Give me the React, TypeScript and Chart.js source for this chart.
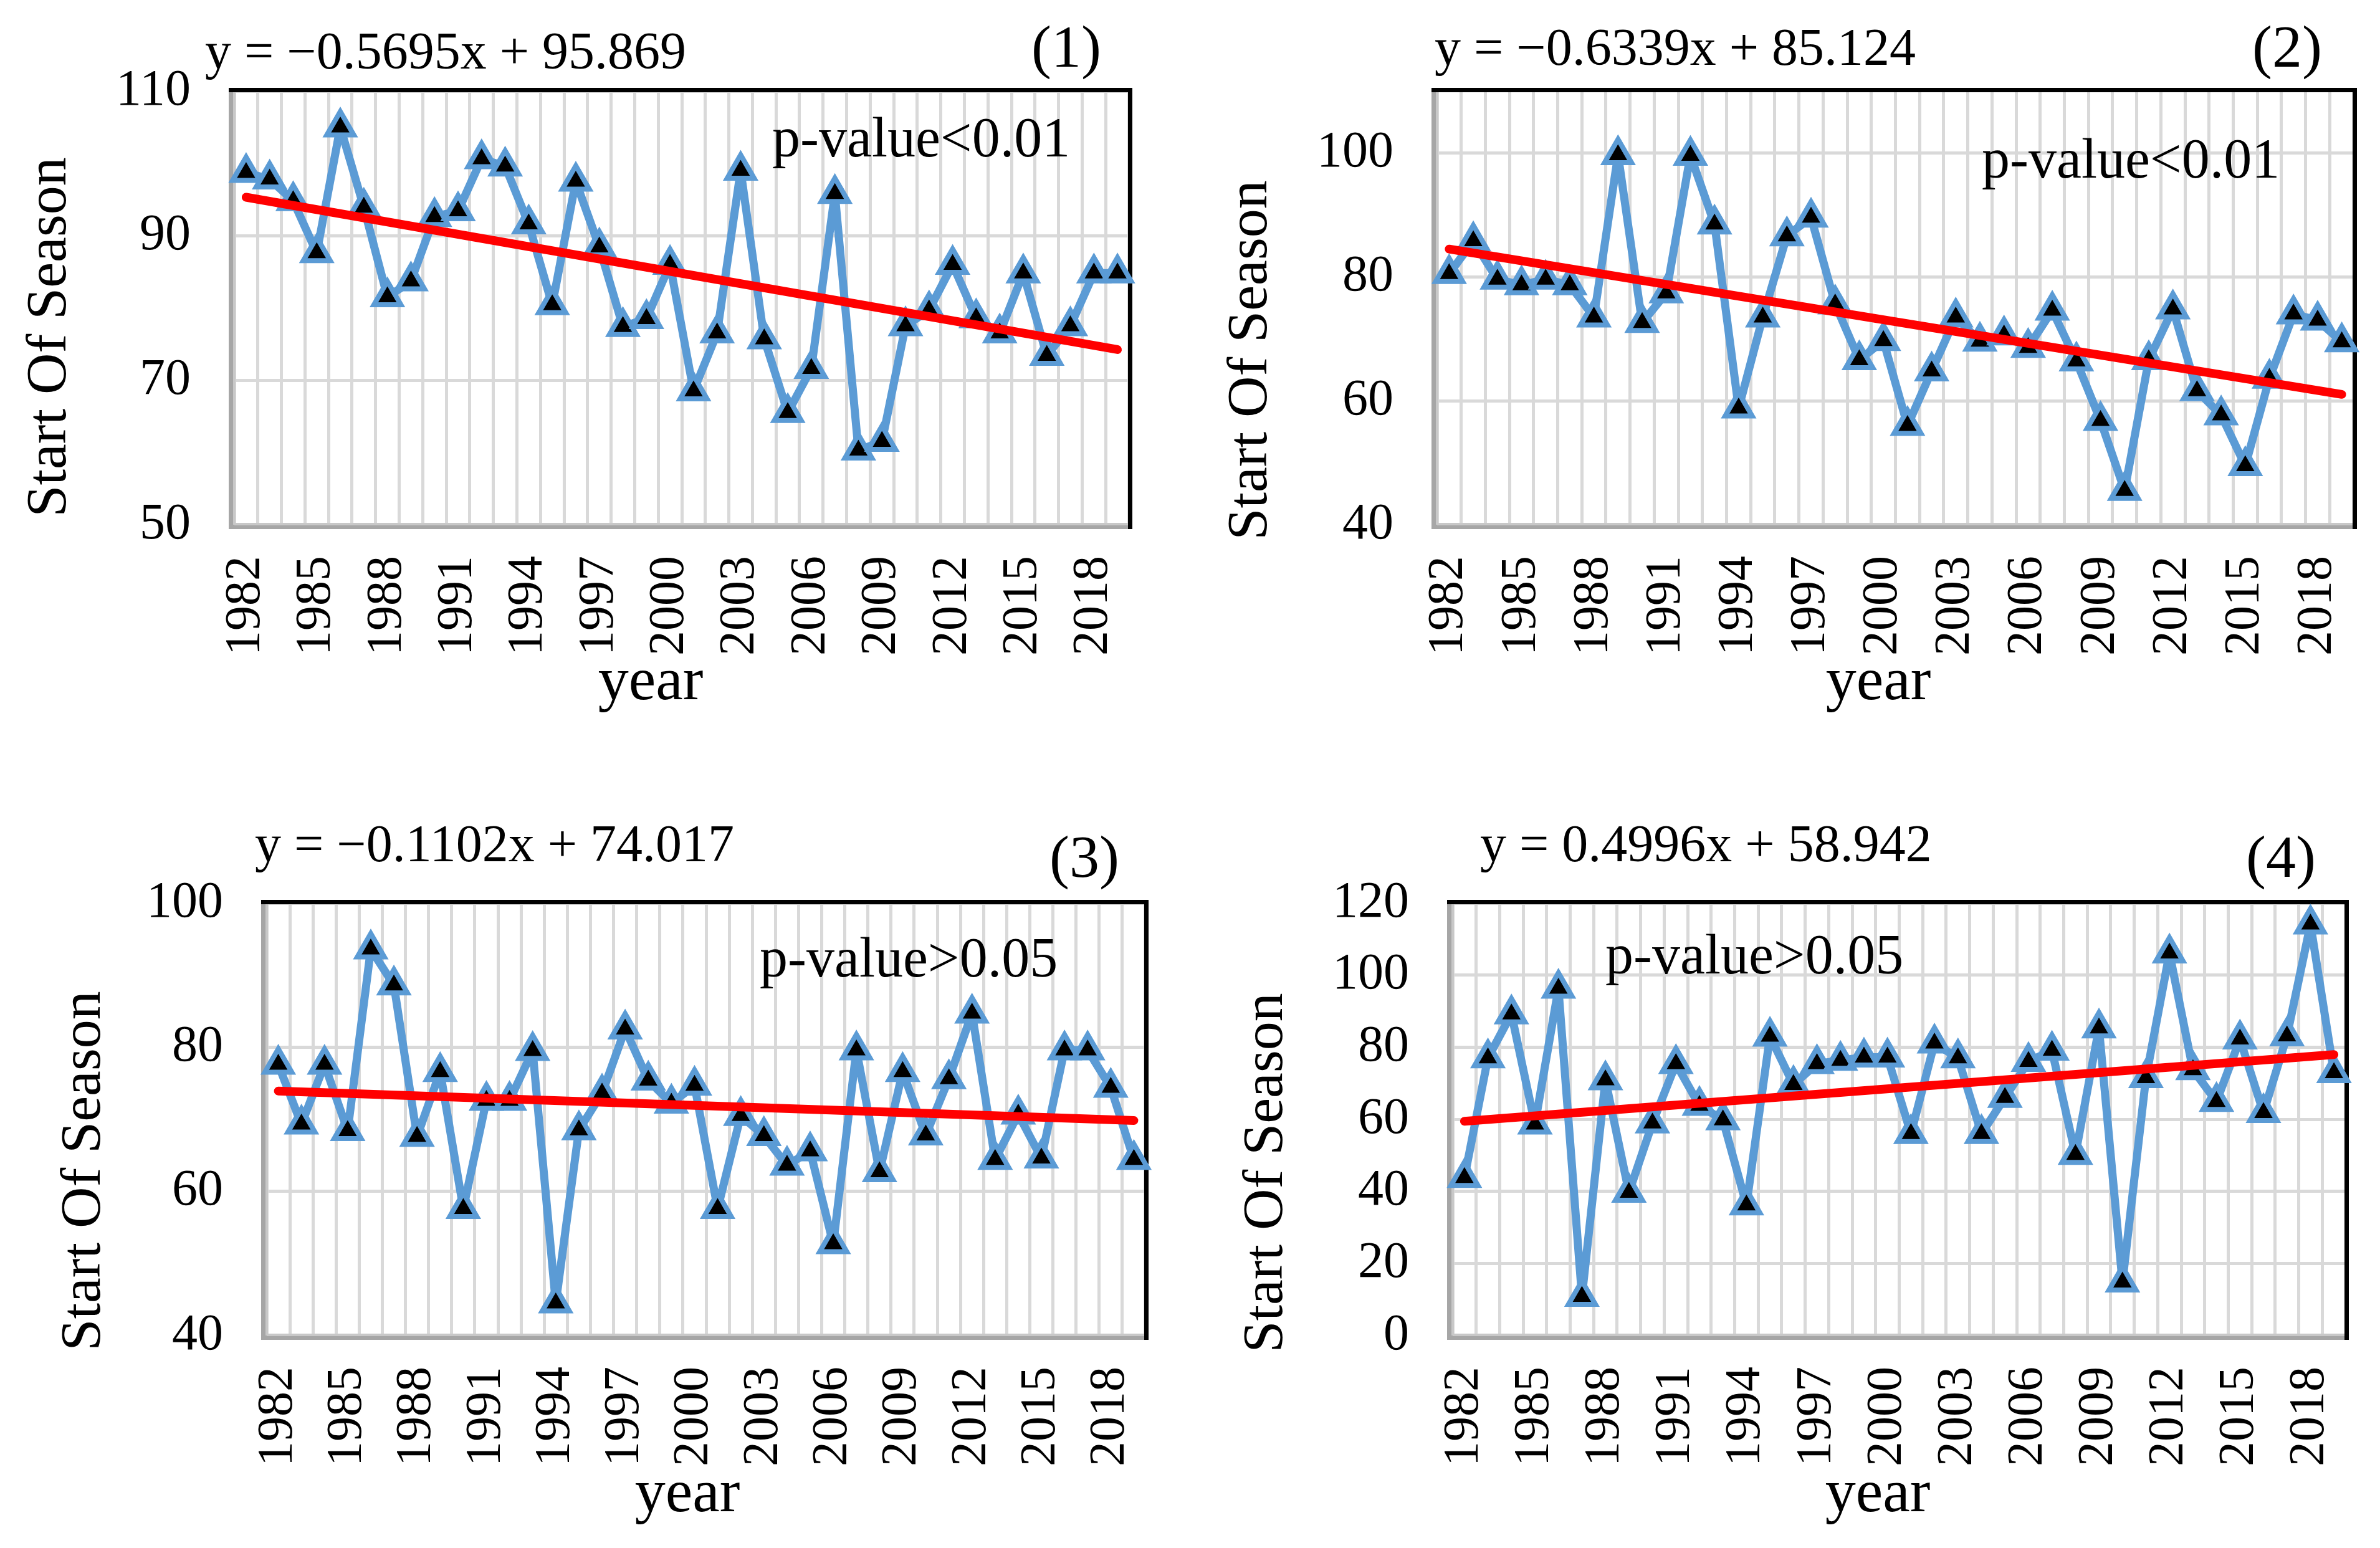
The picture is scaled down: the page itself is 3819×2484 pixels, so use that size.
import React, { useEffect, useRef } from 'react';
import { Chart, registerables } from 'chart.js';

Chart.register(...registerables);

const years = [
  '1982', '1983', '1984', '1985', '1986', '1987', '1988', '1989', '1990', '1991',
  '1992', '1993', '1994', '1995', '1996', '1997', '1998', '1999', '2000', '2001',
  '2002', '2003', '2004', '2005', '2006', '2007', '2008', '2009', '2010', '2011',
  '2012', '2013', '2014', '2015', '2016', '2017', '2018', '2019',
];

const sos1 = [98.7, 97.8, 94.8, 87.6, 105, 93.9, 81.5, 83.7, 92.6, 93.4, 100.6, 99.6, 91.6, 80.4, 97.5, 88.4, 77.4, 78.5, 86, 68.5, 76.5, 99, 75.7, 65.5, 71.6, 95.8, 60.3, 61.5, 77.5, 79.7, 86, 78.6, 76.5, 84.8, 73.4, 77.5, 84.8, 84.8];
const sos2 = [80.5, 85.8, 79.6, 78.7, 79.6, 78.7, 73.5, 99.7, 72.6, 77.4, 99.6, 88.5, 58.8, 73.5, 86.6, 89.6, 75.6, 66.6, 69.7, 56, 64.8, 73.5, 69.6, 70.6, 68.6, 74.6, 66.4, 56.8, 45.5, 66.6, 74.8, 61.6, 57.7, 49.5, 63.6, 74, 73, 69.5];
const sos3 = [77.6, 69.3, 77.6, 68.4, 93.6, 88.6, 67.6, 76.6, 57.6, 72.6, 72.6, 79.5, 44.5, 68.5, 73.6, 82.5, 75.4, 72.2, 74.7, 57.6, 70.5, 67.7, 63.6, 65.6, 52.7, 79.6, 62.7, 76.6, 67.8, 75.6, 84.7, 64.4, 70.7, 64.6, 79.6, 79.6, 74.4, 64.4];
const sos4 = [43.8, 77, 89.2, 58.6, 96.3, 10.8, 70.9, 39.7, 58.9, 75.4, 63.8, 59.8, 36.2, 83, 69.6, 75.4, 76.3, 77.2, 77.2, 56, 81.1, 77, 56, 66, 76, 79.1, 50.2, 85.3, 14.8, 71.5, 106.1, 73.7, 64.9, 82.2, 61.8, 83.1, 114.1, 72.9];

// trend line end values (first year, last year)
const trend1 = [95.3, 74.23];
const trend2 = [84.49, 61.04];
const trend3 = [73.91, 69.83];
const trend4 = [59.44, 77.93];

const equations = [
  'y = \u22120.5695x + 95.869',
  'y = \u22120.6339x + 85.124',
  'y = \u22120.1102x + 74.017',
  'y = 0.4996x + 58.942',
];
const pLabels = ['p-value<0.01', 'p-value<0.01', 'p-value>0.05', 'p-value>0.05'];
const panelTags = ['(1)', '(2)', '(3)', '(4)'];
const yTitle = 'Start Of Season';
const xTitle = 'year';

const FONT = "'Liberation Serif', 'Times New Roman', serif";
const BLUE = '#5B9BD5';
const RED = '#FF0000';
const GRID = '#D9D9D9';

function trendSeries(ends: number[]) {
  const arr: (number | null)[] = years.map(() => null);
  arr[0] = ends[0];
  arr[years.length - 1] = ends[1];
  return arr;
}

type PanelCfg = {
  x: number; y: number; w: number; h: number;
  area: { L: number; T: number; R: number; B: number };
  values: number[]; trend: number[];
  min: number; max: number; includeBounds: boolean;
  eq: { x: number; y: number }; tag: { x: number; y: number };
  p: { x: number; y: number }; yt: { x: number; y: number }; xt: { x: number; y: number };
  idx: number;
};

const panels: PanelCfg[] = [
  {
    x: 0, y: 0, w: 1910, h: 1242, area: { L: 376, T: 146, R: 1812, B: 842 },
    values: sos1, trend: trend1, min: 50, max: 110, includeBounds: true,
    eq: { x: 329, y: 110 }, tag: { x: 1767, y: 107 }, p: { x: 1239, y: 251 },
    yt: { x: 81, y: 541 }, xt: { x: 1044, y: 1122 }, idx: 0,
  },
  {
    x: 1910, y: 0, w: 1909, h: 1242, area: { L: 396, T: 146, R: 1867, B: 842 },
    values: sos2, trend: trend2, min: 40, max: 110, includeBounds: false,
    eq: { x: 392, y: 104 }, tag: { x: 1816, y: 107 }, p: { x: 1270, y: 285 },
    yt: { x: 98, y: 578 }, xt: { x: 1104, y: 1122 }, idx: 1,
  },
  {
    x: 0, y: 1242, w: 1910, h: 1242, area: { L: 428, T: 207, R: 1838, B: 901 },
    values: sos3, trend: trend3, min: 40, max: 100, includeBounds: true,
    eq: { x: 409, y: 140 }, tag: { x: 1796, y: 165 }, p: { x: 1219, y: 325 },
    yt: { x: 136, y: 637 }, xt: { x: 1103, y: 1183 }, idx: 2,
  },
  {
    x: 1910, y: 1242, w: 1909, h: 1242, area: { L: 421, T: 207, R: 1854, B: 901 },
    values: sos4, trend: trend4, min: 0, max: 120, includeBounds: true,
    eq: { x: 465, y: 140 }, tag: { x: 1806, y: 165 }, p: { x: 666, y: 320 },
    yt: { x: 123, y: 640 }, xt: { x: 1103, y: 1183 }, idx: 3,
  },
];

const framePlugin = {
  id: 'frame',
  beforeDatasetsDraw(chart: any) {
    const { ctx, chartArea: a } = chart;
    ctx.save();
    // left & bottom gray
    ctx.fillStyle = '#A6A6A6';
    ctx.fillRect(a.left - 9, a.top, 7, a.bottom - a.top + 7);
    ctx.fillRect(a.left - 9, a.bottom, a.right - a.left + 9, 7);
    ctx.fillStyle = '#C8C8C8';
    ctx.fillRect(a.left - 2, a.top, 4, a.bottom - a.top);
    ctx.fillRect(a.left, a.bottom - 3, a.right - a.left, 4);
    // top & right black
    ctx.fillStyle = '#000';
    ctx.fillRect(a.left - 9, a.top - 5, a.right - a.left + 14, 7);
    ctx.fillRect(a.right - 2, a.top - 5, 7, a.bottom - a.top + 12);
    ctx.restore();
  },
};

function Panel({ cfg }: { cfg: PanelCfg }) {
  const ref = useRef<HTMLCanvasElement | null>(null);
  useEffect(() => {
    const { area, w, h } = cfg;
    const Y_W = 300;
    const X_H = 300;
    const textPlugin = {
      id: 'texts',
      afterDraw(chart: any) {
        const ctx = chart.ctx;
        const items = [
          { t: equations[cfg.idx], x: cfg.eq.x, y: cfg.eq.y, s: 84, al: 'left', bl: 'alphabetic', r: false },
          { t: panelTags[cfg.idx], x: cfg.tag.x, y: cfg.tag.y, s: 96, al: 'right', bl: 'alphabetic', r: false },
          { t: pLabels[cfg.idx], x: cfg.p.x, y: cfg.p.y, s: 90, al: 'left', bl: 'alphabetic', r: false },
          { t: yTitle, x: cfg.yt.x, y: cfg.yt.y, s: 92, al: 'center', bl: 'middle', r: true },
          { t: xTitle, x: cfg.xt.x, y: cfg.xt.y, s: 98, al: 'center', bl: 'alphabetic', r: false },
        ];
        for (const it of items) {
          ctx.save();
          ctx.font = `${it.s}px ${FONT}`;
          ctx.fillStyle = '#000';
          ctx.textAlign = it.al;
          ctx.textBaseline = it.bl;
          ctx.translate(it.x, it.y);
          if (it.r) ctx.rotate(-Math.PI / 2);
          ctx.fillText(it.t, 0, 0);
          ctx.restore();
        }
      },
    };
    const chart = new Chart(ref.current as HTMLCanvasElement, {
      type: 'line',
      data: {
        labels: years,
        datasets: [
          {
            data: trendSeries(cfg.trend),
            borderColor: RED,
            borderWidth: 14,
            pointRadius: 0,
            spanGaps: true,
            borderCapStyle: 'round',
            fill: false,
          } as any,
          {
            data: cfg.values,
            borderColor: BLUE,
            borderWidth: 13,
            tension: 0,
            borderJoinStyle: 'round',
            pointStyle: 'triangle',
            pointRadius: 25,
            pointBorderWidth: 8,
            pointBackgroundColor: '#000',
            pointBorderColor: BLUE,
            fill: false,
          } as any,
        ],
      },
      options: {
        animation: false,
        responsive: false,
        devicePixelRatio: 1,
        layout: {
          padding: { left: area.L - Y_W, top: area.T, right: w - area.R, bottom: h - area.B - X_H },
        },
        plugins: {
          legend: { display: false },
          tooltip: { enabled: false },
          title: { display: false },
        },
        scales: {
          x: {
            offset: true,
            grid: { offset: true, color: GRID, lineWidth: 5, drawTicks: false },
            border: { display: false },
            ticks: {
              autoSkip: false,
              minRotation: 90,
              maxRotation: 90,
              padding: 50,
              color: '#000',
              font: { family: FONT, size: 80 },
              callback: (_v: any, i: number) => (i % 3 === 0 ? years[i] : ''),
            },
            afterFit: (s: any) => {
              s.height = X_H;
              s.paddingLeft = 0;
              s.paddingRight = 0;
            },
          },
          y: {
            min: cfg.min,
            max: cfg.max,
            grid: { color: GRID, lineWidth: 5, drawTicks: false },
            border: { display: false },
            ticks: {
              stepSize: 20,
              includeBounds: cfg.includeBounds,
              padding: 70,
              color: '#000',
              font: { family: FONT, size: 82 },
            },
            afterFit: (s: any) => {
              s.width = Y_W;
              s.paddingTop = 0;
              s.paddingBottom = 0;
            },
          },
        },
      } as any,
      plugins: [framePlugin, textPlugin] as any,
    });
    return () => chart.destroy();
  }, [cfg]);
  return (
    <canvas
      ref={ref}
      width={cfg.w}
      height={cfg.h}
      style={{ position: 'absolute', left: cfg.x, top: cfg.y, width: cfg.w, height: cfg.h }}
    />
  );
}

export default function App() {
  return (
    <div style={{ position: 'fixed', left: 0, top: 0, width: 3819, height: 2484, background: '#fff', overflow: 'hidden' }}>
      {panels.map((p) => (
        <Panel key={p.idx} cfg={p} />
      ))}
    </div>
  );
}
